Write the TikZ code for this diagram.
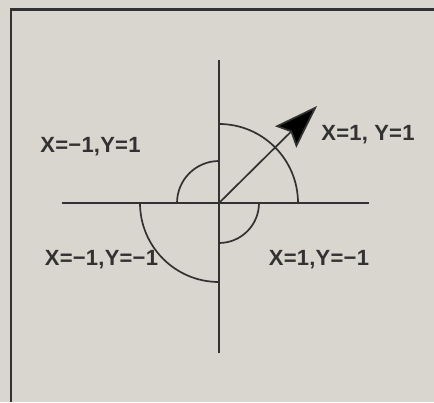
\documentclass[tikz,border=0pt]{standalone}
\usepackage{fontspec}
\usepackage{tikz}
\usetikzlibrary{arrows.meta,positioning}
\newfontfamily\lblfont{Liberation Sans}[LetterSpace=1]
\definecolor{paper}{RGB}{216,214,206}
\definecolor{ink}{RGB}{50,50,50}

\begin{document}
\begin{tikzpicture}[
    x=1pt,y=1pt,
    axis/.style={draw=ink,line width=1.5pt},
    qarc/.style={draw=ink,line width=1.7pt},
    vec/.style={-{Stealth[length=44pt,width=30pt,inset=7pt,fill=black]},ink,line width=1.7pt},
    lbl/.style={font=\lblfont\bfseries\fontsize{22}{26}\selectfont,text=ink,inner sep=0pt},
  ]
    \fill[paper] (0,0) rectangle (434,402);
    \useasboundingbox (0,0) rectangle (434,402);
    \draw[ink,line width=2.6pt] (11,0) -- (11,392.5) -- (434,392.5);
    \coordinate (O) at (219,199);
    \coordinate (xl) at (62,199);
    \coordinate (xr) at (369,199);
    \coordinate (yt) at (219,342);
    \coordinate (yb) at (219,49);
    \coordinate (tip) at (317,296);
    \draw[axis](xl)--(xr);
    \draw[axis](yt)--(yb);
    \draw[qarc] ([yshift=79pt]O) arc[start angle=90,end angle=0,radius=79pt];
    \draw[qarc] ([yshift=42pt]O) arc[start angle=90,end angle=180,radius=42pt];
    \draw[qarc] ([xshift=-79pt]O) arc[start angle=180,end angle=270,radius=79pt];
    \draw[qarc] ([xshift=40pt]O) arc[start angle=0,end angle=-90,radius=40pt];
    \draw[vec](O)--(tip);
    \node[lbl](q1) at (368,267){X=1, Y=1};
    \node[lbl](q2) at (90.5,255){X=−1,Y=1};
    \node[lbl](q3) at (101.5,142){X=−1,Y=−1};
    \node[lbl](q4) at (319,142){X=1,Y=−1};
  \end{tikzpicture}
\end{document}
